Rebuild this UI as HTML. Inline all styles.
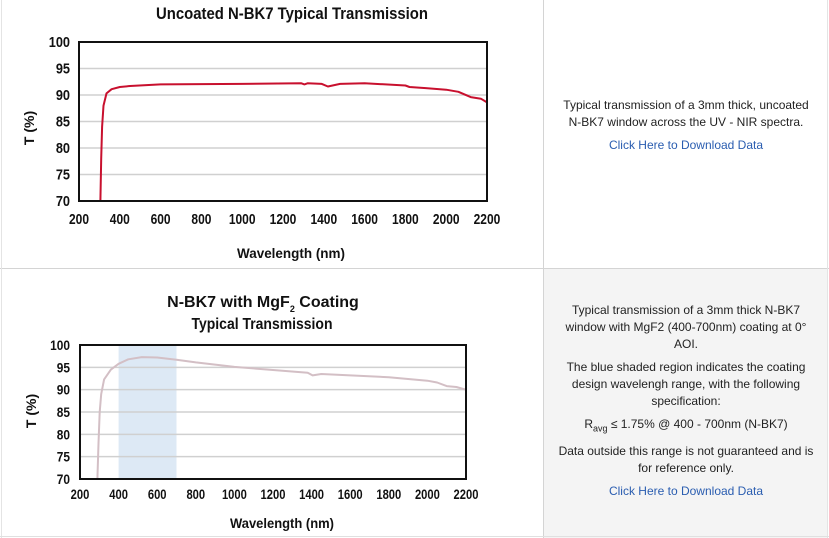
<!DOCTYPE html>
<html><head><meta charset="utf-8"><style>
html,body{margin:0;padding:0;background:#fff;}
body{width:829px;height:538px;position:relative;overflow:hidden;font-family:"Liberation Sans",sans-serif;}
.txt{position:absolute;left:556px;width:260px;text-align:center;font-size:12px;color:#222;line-height:17px;}
.txt p{margin:0 0 6px 0;}
.lnk{color:#2a5db0;}
</style></head><body>
<div style="position:absolute;left:543px;top:268px;width:284px;height:270px;background:#f4f4f4"></div>
<div style="position:absolute;left:0;top:268px;width:829px;height:1px;background:#d4d4d4"></div>
<div style="position:absolute;left:543px;top:0;width:1px;height:538px;background:#d4d4d4"></div>
<div style="position:absolute;left:827px;top:0;width:1px;height:538px;background:#e4e4e4"></div>
<div style="position:absolute;left:1px;top:0;width:1px;height:538px;background:#e4e4e4"></div>
<div style="position:absolute;left:0;top:536px;width:829px;height:1px;background:#e0e0e0"></div>

<div class="txt" style="top:97px">
<p>Typical transmission of a 3mm thick, uncoated N-BK7 window across the UV - NIR spectra.</p>
<p class="lnk">Click Here to Download Data</p>
</div>
<div class="txt" style="top:302px">
<p>Typical transmission of a 3mm thick N-BK7 window with MgF2 (400-700nm) coating at 0° AOI.</p>
<p>The blue shaded region indicates the coating design wavelengh range, with the following specification:</p>
<p>R<sub style="font-size:9px">avg</sub> ≤ 1.75% @ 400 - 700nm (N-BK7)</p>
<p>Data outside this range is not guaranteed and is for reference only.</p>
<p class="lnk">Click Here to Download Data</p>
</div>

<svg width="543" height="538" style="position:absolute;left:0;top:0" font-family="Liberation Sans, sans-serif" font-weight="bold">
<g id="c1"></g>
<g id="c2"></g>
<text x="292" y="19" text-anchor="middle" font-size="17" textLength="272" lengthAdjust="spacingAndGlyphs" fill="#111">Uncoated N-BK7 Typical Transmission</text>
<text x="291" y="258" text-anchor="middle" font-size="14" textLength="108" lengthAdjust="spacingAndGlyphs" fill="#111">Wavelength (nm)</text>
<text transform="translate(34,128) rotate(-90)" text-anchor="middle" font-size="14" fill="#111">T (%)</text>
<text x="263" y="307" text-anchor="middle" font-size="16" fill="#111">N-BK7 with MgF<tspan font-size="9" dy="5">2</tspan><tspan dy="-5"> Coating</tspan></text>
<text x="262" y="329" text-anchor="middle" font-size="16" textLength="141" lengthAdjust="spacingAndGlyphs" fill="#111">Typical Transmission</text>
<text x="282" y="528" text-anchor="middle" font-size="14" textLength="104" lengthAdjust="spacingAndGlyphs" fill="#111">Wavelength (nm)</text>
<text transform="translate(36,411) rotate(-90)" text-anchor="middle" font-size="14" fill="#111">T (%)</text>
</svg>
<script>
function build(id,x0,x1,y0,y1,pts,color,shade,fs,xly){
  var g=document.getElementById(id),s="";
  var X=function(w){return x0+(w-200)*(x1-x0)/2000},Y=function(t){return y0+(100-t)*(y1-y0)/30};
  if(shade) s+='<rect x="'+X(400)+'" y="'+y0+'" width="'+(X(700)-X(400))+'" height="'+(y1-y0)+'" fill="#dde9f5"/>';
  for(var t=75;t<100;t+=5) s+='<line x1="'+x0+'" x2="'+x1+'" y1="'+Y(t)+'" y2="'+Y(t)+'" stroke="#d0d0d0" stroke-width="1.5"/>';
  var d="";pts.forEach(function(p,i){d+=(i?"L":"M")+X(p[0]).toFixed(1)+","+Y(p[1]).toFixed(1);});
  s+='<path d="'+d+'" fill="none" stroke="'+color+'" stroke-width="2" stroke-linejoin="round"/>';
  s+='<rect x="'+x0+'" y="'+y0+'" width="'+(x1-x0)+'" height="'+(y1-y0)+'" fill="none" stroke="#111" stroke-width="2"/>';
  for(var t=70;t<=100;t+=5) s+='<text x="70" y="'+(Y(t)+5)+'" text-anchor="end" font-size="'+fs+'" fill="#111" transform="translate(70,0) scale(0.85,1) translate(-70,0)">'+t+'</text>';
  for(var w=200;w<=2200;w+=200) s+='<text x="'+X(w)+'" y="'+xly+'" text-anchor="middle" font-size="'+fs+'" fill="#111" transform="translate('+X(w)+',0) scale(0.8,1) translate('+(-X(w))+',0)">'+w+'</text>';
  g.innerHTML=s;
}
build("c1",79,487,42,201,[[305,70],[309,78],[313,84],[320,88],[335,90.3],[360,91.1],[400,91.5],[450,91.7],[600,92],[1000,92.1],[1290,92.2],[1305,92.0],[1320,92.2],[1390,92.1],[1420,91.6],[1480,92.1],[1600,92.2],[1800,91.8],[1820,91.5],[1900,91.3],[2000,91.0],[2060,90.6],[2120,89.6],[2170,89.3],[2200,88.6]],"#c8102e",false,15,224);
build("c2",80,466,345,479,[[290,70],[296,78],[302,85],[310,89],[325,92.3],[360,94.5],[400,95.8],[450,96.8],[520,97.3],[600,97.2],[700,96.7],[800,96.1],[1000,95.1],[1200,94.4],[1380,93.8],[1405,93.2],[1450,93.5],[1800,92.8],[2000,92.0],[2050,91.6],[2100,90.8],[2150,90.6],[2200,90]],"#d3bfc5",true,14,499);
</script>
</body></html>
